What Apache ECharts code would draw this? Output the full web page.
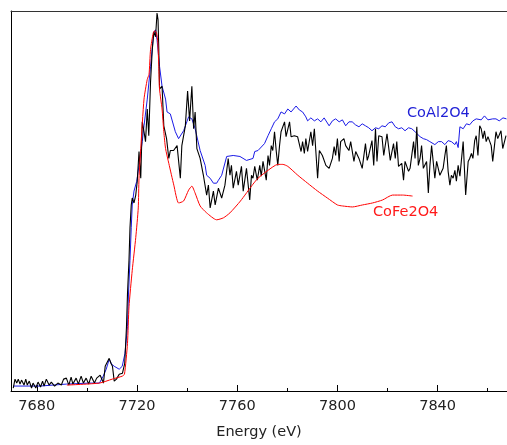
<!DOCTYPE html>
<html>
<head>
<meta charset="utf-8">
<title>Co K-edge XANES</title>
<script src="https://cdn.jsdelivr.net/npm/echarts@6/dist/echarts.min.js"></script>
<style>
  html, body { margin: 0; padding: 0; background: #fff; }
  #chart { width: 507px; height: 445px; }
</style>
</head>
<body>
<div id="chart"></div>
<script>
// x: photon energy (eV), y: normalised absorption (arb. units)
var majorTicks = [7680, 7720, 7760, 7800, 7840];
var minorTicks = [7700, 7740, 7780, 7820, 7860];

// CoAl2O4 (blue)
var alE = [7670.5, 7681.2, 7691.9, 7701.0, 7705.0, 7706.5, 7707.7, 7708.9, 7709.9, 7710.9, 7712.9, 7714.1, 7715.2, 7716.2, 7716.6, 7717.2, 7717.7, 7718.1, 7718.8, 7719.9, 7720.8, 7722.1, 7722.8, 7724.1, 7725.4, 7726.7, 7727.4, 7728.0, 7729.0, 7730.0, 7731.4, 7732.0, 7733.3, 7735.3, 7736.6, 7737.3, 7738.6, 7739.9, 7740.6, 7741.9, 7743.2, 7743.9, 7745.2, 7745.9, 7747.2, 7747.8, 7749.2, 7750.5, 7751.8, 7752.5, 7753.8, 7755.8, 7756.4, 7758.4, 7761.1, 7763.7, 7764.4, 7766.3, 7767.0, 7768.3, 7770.9, 7772.3, 7773.6, 7774.9, 7776.2, 7777.5, 7778.9, 7780.2, 7781.5, 7783.5, 7784.8, 7786.1, 7787.4, 7788.1, 7789.4, 7790.8, 7792.1, 7793.4, 7794.7, 7796.7, 7798.0, 7799.3, 7800.7, 7802.0, 7803.3, 7804.6, 7805.9, 7807.2, 7808.6, 7809.9, 7811.2, 7812.5, 7813.8, 7815.2, 7816.5, 7817.8, 7819.1, 7820.5, 7821.8, 7823.1, 7824.4, 7825.7, 7827.0, 7828.4, 7829.7, 7831.0, 7833.0, 7834.3, 7835.6, 7836.9, 7838.9, 7840.3, 7841.6, 7842.9, 7844.2, 7845.5, 7846.9, 7847.5, 7848.2, 7848.9, 7850.2, 7851.5, 7852.8, 7854.1, 7855.4, 7856.1, 7857.4, 7858.7, 7860.1, 7860.8, 7862.0, 7863.3, 7864.6, 7866.1, 7867.5];
var alV = [0.05, 0.05, 0.07, 0.08, 0.08, 0.15, 0.22, 0.32, 0.27, 0.25, 0.22, 0.25, 0.38, 0.65, 0.98, 1.32, 1.65, 1.88, 2.02, 2.12, 2.28, 2.52, 2.68, 2.95, 3.28, 3.62, 3.65, 3.55, 3.28, 3.08, 2.95, 2.82, 2.80, 2.62, 2.55, 2.53, 2.63, 2.72, 2.77, 2.75, 2.65, 2.63, 2.43, 2.42, 2.28, 2.18, 2.15, 2.10, 2.10, 2.13, 2.18, 2.37, 2.38, 2.38, 2.37, 2.33, 2.33, 2.35, 2.42, 2.43, 2.50, 2.58, 2.65, 2.72, 2.75, 2.82, 2.80, 2.85, 2.82, 2.88, 2.84, 2.82, 2.77, 2.73, 2.76, 2.73, 2.75, 2.72, 2.76, 2.68, 2.73, 2.75, 2.72, 2.74, 2.68, 2.72, 2.72, 2.69, 2.67, 2.70, 2.68, 2.66, 2.63, 2.66, 2.65, 2.68, 2.67, 2.71, 2.72, 2.67, 2.65, 2.66, 2.63, 2.66, 2.65, 2.62, 2.57, 2.55, 2.54, 2.52, 2.49, 2.52, 2.52, 2.49, 2.53, 2.52, 2.49, 2.52, 2.46, 2.67, 2.65, 2.70, 2.69, 2.73, 2.75, 2.77, 2.74, 2.78, 2.74, 2.72, 2.75, 2.75, 2.73, 2.76, 2.75];

// sample (black)
var smpE = [7670.6, 7671.3, 7672.0, 7672.6, 7673.3, 7673.9, 7674.9, 7675.6, 7676.2, 7677.0, 7677.9, 7678.5, 7679.6, 7680.5, 7681.5, 7682.3, 7682.9, 7683.8, 7684.9, 7685.8, 7687.1, 7688.4, 7689.8, 7690.7, 7691.8, 7692.8, 7693.7, 7694.4, 7695.7, 7696.6, 7697.7, 7698.6, 7699.7, 7700.7, 7701.7, 7703.0, 7703.9, 7705.3, 7706.0, 7706.6, 7707.3, 7708.1, 7708.9, 7709.6, 7710.2, 7710.9, 7711.8, 7712.9, 7714.2, 7715.1, 7715.8, 7716.2, 7716.8, 7717.2, 7717.7, 7718.1, 7718.8, 7719.5, 7720.1, 7720.8, 7721.5, 7722.1, 7722.8, 7723.4, 7724.1, 7724.7, 7725.4, 7726.1, 7726.7, 7727.4, 7728.0, 7728.4, 7728.7, 7729.0, 7729.4, 7730.0, 7730.7, 7731.4, 7731.8, 7732.7, 7733.3, 7734.6, 7736.0, 7737.3, 7737.9, 7739.3, 7740.2, 7741.0, 7741.9, 7742.6, 7743.2, 7743.9, 7745.2, 7746.5, 7747.8, 7748.5, 7749.2, 7750.5, 7751.2, 7752.5, 7753.8, 7755.1, 7756.4, 7757.1, 7757.7, 7758.4, 7759.7, 7760.4, 7761.7, 7762.4, 7763.7, 7765.0, 7765.7, 7766.3, 7767.0, 7768.0, 7769.0, 7769.6, 7770.3, 7771.6, 7772.3, 7772.9, 7773.6, 7774.2, 7774.9, 7775.6, 7776.2, 7776.9, 7777.5, 7778.9, 7779.5, 7780.9, 7781.5, 7782.8, 7784.1, 7785.5, 7786.1, 7786.8, 7787.4, 7788.1, 7789.4, 7790.1, 7790.8, 7792.1, 7792.8, 7794.0, 7795.4, 7796.7, 7798.0, 7798.7, 7799.3, 7800.0, 7800.7, 7801.3, 7802.6, 7803.3, 7804.6, 7805.3, 7806.6, 7807.3, 7808.6, 7809.9, 7811.2, 7811.9, 7812.5, 7813.8, 7814.5, 7815.2, 7815.8, 7816.5, 7817.8, 7818.5, 7819.8, 7821.1, 7822.4, 7823.1, 7823.7, 7824.4, 7825.7, 7826.4, 7827.0, 7828.4, 7829.0, 7830.4, 7831.0, 7831.7, 7832.3, 7833.0, 7833.6, 7834.3, 7835.6, 7836.3, 7836.9, 7837.6, 7838.9, 7839.6, 7840.9, 7842.2, 7842.9, 7843.5, 7844.2, 7844.9, 7845.5, 7846.2, 7846.9, 7847.5, 7848.2, 7848.9, 7850.2, 7851.2, 7852.2, 7852.8, 7853.5, 7854.1, 7854.8, 7855.4, 7856.1, 7856.8, 7857.4, 7858.1, 7858.7, 7859.4, 7860.1, 7861.4, 7862.0, 7862.7, 7863.3, 7864.0, 7865.3, 7866.0, 7867.3];
var smpV = [0.03, 0.12, 0.08, 0.12, 0.07, 0.11, 0.06, 0.12, 0.06, 0.10, 0.03, 0.08, 0.03, 0.09, 0.04, 0.10, 0.05, 0.12, 0.06, 0.09, 0.05, 0.08, 0.06, 0.12, 0.13, 0.06, 0.14, 0.07, 0.13, 0.07, 0.15, 0.08, 0.13, 0.07, 0.15, 0.08, 0.13, 0.16, 0.17, 0.08, 0.25, 0.29, 0.33, 0.28, 0.25, 0.10, 0.12, 0.17, 0.18, 0.28, 0.65, 0.98, 1.32, 1.65, 1.88, 1.95, 1.90, 1.98, 2.12, 2.42, 2.15, 2.72, 2.62, 2.52, 2.85, 2.58, 3.12, 3.45, 3.63, 3.58, 3.82, 3.75, 3.45, 3.05, 3.05, 3.08, 2.68, 2.68, 2.55, 2.35, 2.43, 2.43, 2.48, 2.15, 2.48, 2.68, 3.03, 2.73, 3.08, 2.65, 2.82, 2.45, 2.35, 2.18, 1.98, 2.08, 1.85, 2.02, 1.88, 2.05, 1.95, 2.08, 2.35, 2.18, 2.28, 2.05, 2.22, 2.08, 2.27, 2.02, 2.25, 1.93, 2.18, 2.15, 2.27, 2.13, 2.28, 2.17, 2.32, 2.13, 2.38, 2.28, 2.48, 2.43, 2.62, 2.42, 2.28, 2.48, 2.62, 2.72, 2.57, 2.72, 2.57, 2.58, 2.57, 2.42, 2.52, 2.40, 2.55, 2.42, 2.62, 2.48, 2.65, 2.15, 2.43, 2.38, 2.28, 2.25, 2.35, 2.47, 2.38, 2.55, 2.32, 2.52, 2.55, 2.48, 2.43, 2.52, 2.32, 2.42, 2.35, 2.25, 2.50, 2.33, 2.38, 2.53, 2.28, 2.65, 2.32, 2.58, 2.57, 2.38, 2.60, 2.33, 2.50, 2.35, 2.52, 2.27, 2.30, 2.13, 2.32, 2.22, 2.25, 2.52, 2.35, 2.67, 2.28, 2.35, 2.48, 2.25, 2.32, 2.00, 2.27, 2.48, 2.15, 2.32, 2.18, 2.25, 2.38, 2.48, 2.22, 2.08, 2.18, 2.15, 2.23, 2.12, 2.28, 2.17, 2.52, 1.98, 2.32, 2.35, 2.40, 2.35, 2.53, 2.58, 2.38, 2.68, 2.65, 2.55, 2.63, 2.52, 2.57, 2.48, 2.32, 2.48, 2.62, 2.55, 2.63, 2.45, 2.58];

// CoFe2O4 (red)
var feE = [7692.0, 7705.0, 7710.1, 7714.1, 7715.0, 7716.2, 7716.8, 7718.1, 7719.5, 7720.5, 7720.8, 7721.5, 7722.8, 7724.1, 7724.8, 7725.4, 7726.5, 7727.1, 7727.8, 7728.3, 7728.7, 7729.0, 7730.0, 7730.7, 7731.4, 7732.7, 7734.7, 7736.6, 7738.6, 7740.6, 7741.9, 7743.2, 7745.2, 7747.8, 7751.8, 7754.5, 7757.1, 7761.3, 7766.3, 7768.3, 7772.3, 7776.2, 7778.2, 7780.2, 7784.2, 7788.1, 7792.1, 7796.0, 7800.0, 7802.0, 7806.0, 7810.0, 7814.0, 7818.0, 7822.0, 7826.0, 7830.0];
var feV = [0.06, 0.08, 0.12, 0.15, 0.17, 0.48, 0.85, 1.22, 1.55, 1.85, 2.15, 2.45, 2.95, 3.15, 3.20, 3.45, 3.62, 3.64, 3.62, 3.52, 3.28, 3.05, 2.85, 2.62, 2.45, 2.30, 2.08, 1.90, 1.92, 2.03, 2.07, 2.00, 1.87, 1.80, 1.73, 1.75, 1.80, 1.92, 2.09, 2.15, 2.23, 2.29, 2.29, 2.27, 2.18, 2.10, 2.02, 1.95, 1.88, 1.87, 1.86, 1.88, 1.90, 1.93, 1.98, 1.98, 1.97];

function zip(xs, ys) {
  return xs.map(function (x, i) { return [x, ys[i]]; });
}

var FONT = 'DejaVu Sans';
var X_MIN = 7669.7, X_MAX = 7867.7;
var chart = echarts.init(document.getElementById('chart'));

chart.setOption({
  animation: false,
  grid: { left: 11, top: 11, width: 500, bottom: 50, show: false },
  xAxis: [{
    type: 'value', min: X_MIN, max: X_MAX,
    name: 'Energy (eV)', nameLocation: 'middle', nameGap: 34,
    nameTextStyle: { fontFamily: FONT, fontSize: 14.5, color: '#222' },
    axisLine: { show: true, lineStyle: { color: '#000', width: 1 } },
    axisTick: { show: true, inside: true, length: 6, customValues: majorTicks, lineStyle: { color: '#000' } },
    axisLabel: {
      customValues: majorTicks, margin: 8, fontFamily: FONT, fontSize: 14.5, color: '#222',
      formatter: function (v) { return String(v); }
    },
    splitLine: { show: false }
  }, {
    type: 'value', min: X_MIN, max: X_MAX, position: 'bottom',
    axisLine: { show: false },
    axisTick: { show: true, inside: true, length: 3, customValues: minorTicks, lineStyle: { color: '#000' } },
    axisLabel: { show: false },
    splitLine: { show: false }
  }, {
    // top frame line only
    type: 'value', min: X_MIN, max: X_MAX, position: 'top',
    axisLine: { show: true, lineStyle: { color: '#333', width: 1 } },
    axisTick: { show: false },
    axisLabel: { show: false },
    splitLine: { show: false }
  }],
  yAxis: {
    type: 'value', min: 0, max: 3.84,
    axisLine: { show: true, lineStyle: { color: '#000' } },
    axisTick: { show: false },
    axisLabel: { show: false },
    splitLine: { show: false }
  },
  graphic: [
    { type: 'text', left: 407, top: 106, style: { text: 'CoAl2O4', fill: '#1f1fd6', font: '14.5px "DejaVu Sans"' } },
    { type: 'text', left: 373, top: 205, style: { text: 'CoFe2O4', fill: '#ff1a1a', font: '14.5px "DejaVu Sans"' } }
  ],
  series: [
    {
      name: 'CoAl2O4', type: 'line', data: zip(alE, alV), showSymbol: false,
      lineStyle: { color: '#1a1ae6', width: 1 }, z: 2
    },
    {
      name: 'sample', type: 'line', data: zip(smpE, smpV), showSymbol: false,
      lineStyle: { color: '#000', width: 1.1 }, z: 3
    },
    {
      name: 'CoFe2O4', type: 'line', data: zip(feE, feV), showSymbol: false, smooth: 0.2,
      lineStyle: { color: '#ff0000', width: 1 }, z: 4
    }
  ]
});
</script>
</body>
</html>
